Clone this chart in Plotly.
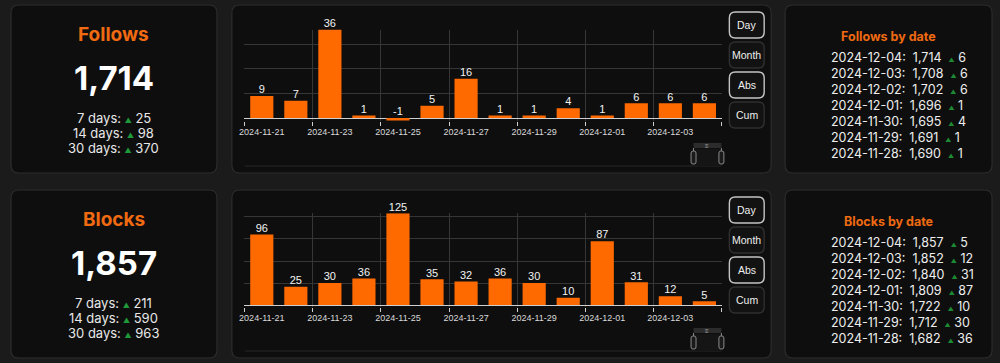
import plotly.graph_objects as go
import pandas as pd

W, H = 1000, 363

# ---------------- data ----------------
dates = ["2024-11-21", "2024-11-22", "2024-11-23", "2024-11-24", "2024-11-25",
         "2024-11-26", "2024-11-27", "2024-11-28", "2024-11-29", "2024-11-30",
         "2024-12-01", "2024-12-02", "2024-12-03", "2024-12-04"]
follows_daily = [9, 7, 36, 1, -1, 5, 16, 1, 1, 4, 1, 6, 6, 6]
blocks_daily = [96, 25, 30, 36, 125, 35, 32, 36, 30, 10, 87, 31, 12, 5]

follows_total = 1714
blocks_total = 1857
period_labels = ["7 days", "14 days", "30 days"]
follows_period_gain = [25, 98, 370]
blocks_period_gain = [211, 590, 963]

table_dates = ["2024-12-04", "2024-12-03", "2024-12-02", "2024-12-01",
               "2024-11-30", "2024-11-29", "2024-11-28"]
follows_table_totals = [1714, 1708, 1702, 1696, 1695, 1691, 1690]
follows_table_deltas = [6, 6, 6, 1, 4, 1, 1]
blocks_table_totals = [1857, 1852, 1840, 1809, 1722, 1712, 1682]
blocks_table_deltas = [5, 12, 31, 87, 10, 30, 36]

button_labels = ["Day", "Month", "Abs", "Cum"]
button_active = [True, False, True, False]

# ---------------- style ----------------
PAGE = "#1b1b1b"
CARD = "#0e0e0e"
CARD_LINE = "#2c2c2c"
ORANGE_T = "#f06a12"
BAR = "#ff6a00"
WHITE = "#eeeeee"
GREEN = "#1f9a3a"
GRID = "#363636"
FONT = "Inter"
CHART_FONT = "Liberation Sans"


def X(px):
    return px / W


def Y(py):
    return 1 - py / H


def rrect(x0, y0, x1, y1, r):
    a, b = X(x0), X(x1)
    t, u = Y(y0), Y(y1)
    rx, ry = r / W, r / H
    return (f"M{a+rx},{t} L{b-rx},{t} Q{b},{t} {b},{t-ry} L{b},{u+ry} "
            f"Q{b},{u} {b-rx},{u} L{a+rx},{u} Q{a},{u} {a},{u+ry} "
            f"L{a},{t-ry} Q{a},{t} {a+rx},{t} Z")


shapes = []
annotations = []


def card(x0, y0, x1, y1):
    shapes.append(dict(type="path", path=rrect(x0, y0, x1, y1, 8),
                       xref="paper", yref="paper", fillcolor=CARD,
                       line=dict(color=CARD_LINE, width=1.2), layer="below"))


def text(x, y, s, size, color=WHITE, bold=False, xanchor="center", family=FONT):
    annotations.append(dict(x=X(x), y=Y(y), xref="paper", yref="paper",
                            text=(f"<b>{s}</b>" if bold else s), showarrow=False,
                            xanchor=xanchor, yanchor="middle",
                            font=dict(family=family, size=size, color=color)))


tri = lambda sz, col=GREEN: f"<span style='font-size:{sz}px;color:{col}'>▲</span>"
SP = "\u00a0"

card_tops = [5, 190]
card_h = 168
names = ["Follows", "Blocks"]
totals = [follows_total, blocks_total]
gains = [follows_period_gain, blocks_period_gain]
tab_tot = [follows_table_totals, blocks_table_totals]
tab_del = [follows_table_deltas, blocks_table_deltas]

for k, top in enumerate(card_tops):
    bot = top + card_h
    card(6, top, 213, bot)
    card(228, top, 770, bot)
    card(784, top, 992, bot)
    # left summary
    cx = 109.5
    text(cx, top + 29.5, names[k], 19, ORANGE_T, bold=True)
    text(cx, top + 72.5, f"{totals[k]:,}", 33, "#ffffff", bold=True)
    for i, (lab, g) in enumerate(zip(period_labels, gains[k])):
        text(cx, top + 113 + 15 * i, f"{lab}: {tri(7)} {g}", 13, "#e8e8e8")
    # right table
    text(888, top + 31.5, f"{names[k]} by date", 12.5, ORANGE_T, bold=True)
    for i, (d, t, dd) in enumerate(zip(table_dates, tab_tot[k], tab_del[k])):
        text(828, top + 52.5 + 16 * i,
             f"{d}:{SP}{SP}{t:,}{SP}{SP}{tri(6, '#1d8a33')}{SP}{dd}", 12.5, "#eeeeee",
             xanchor="left")
    # buttons
    for i, (lab, act) in enumerate(zip(button_labels, button_active)):
        by0 = top + 7 + 30 * i
        shapes.append(dict(type="path", path=rrect(728, by0, 763, by0 + 26, 6),
                           xref="paper", yref="paper", fillcolor="#121212",
                           line=dict(color="#c4c4c4" if act else "#2f2f2f",
                                     width=1.4), layer="above"))
        text(745.5, by0 + 13, lab, 10.5, "#eeeeee", family=CHART_FONT)
    # data zoom slider
    sy = top + 138
    shapes.append(dict(type="rect", x0=X(241), x1=X(720), y0=Y(sy + 22), y1=Y(sy + 24),
                       xref="paper", yref="paper", fillcolor="#1a1a1a",
                       line=dict(width=0), layer="below"))
    shapes.append(dict(type="rect", x0=X(692), x1=X(720), y0=Y(sy + 5), y1=Y(sy),
                       xref="paper", yref="paper", fillcolor="#2c2c2c",
                       line=dict(width=0), layer="below"))
    shapes.append(dict(type="rect", x0=X(692), x1=X(720), y0=Y(sy + 23), y1=Y(sy + 6),
                       xref="paper", yref="paper", fillcolor="#151515",
                       line=dict(width=0), layer="below"))
    for hx in (692, 720):
        shapes.append(dict(type="path", path=rrect(hx - 2.5, sy + 8, hx + 2.5, sy + 21, 2),
                           xref="paper", yref="paper", fillcolor="#1a1a1a",
                           line=dict(color="#8a8a8a", width=1), layer="above"))
        shapes.append(dict(type="line", x0=X(hx), x1=X(hx), y0=Y(sy + 5), y1=Y(sy + 8),
                           xref="paper", yref="paper",
                           line=dict(color="#8a8a8a", width=1), layer="above"))
    text(706, sy + 2.5, "≡", 6, "#aaaaaa", family=CHART_FONT)

# ---------------- charts ----------------
fig = go.Figure()
bar_w = 0.68 * 86400000
bts = pd.to_datetime(dates) - pd.Timedelta(hours=12)
boundaries = list(bts.strftime("%Y-%m-%d %H:%M")[::2])
boundaries.append((pd.to_datetime(dates[-1]) + pd.Timedelta(hours=12)).strftime("%Y-%m-%d %H:%M"))
xrange = [(pd.to_datetime(boundaries[0]) - pd.Timedelta(minutes=20)).strftime("%Y-%m-%d %H:%M"),
          (pd.to_datetime(boundaries[-1]) + pd.Timedelta(minutes=20)).strftime("%Y-%m-%d %H:%M")]

series = [follows_daily, blocks_daily]
axes = [("x", "y"), ("x2", "y2")]
for (xa, ya), vals in zip(axes, series):
    fig.add_trace(go.Bar(x=dates, y=vals, width=bar_w, marker=dict(color=BAR, line=dict(width=0)),
                         xaxis=xa, yaxis=ya, hoverinfo="x+y", showlegend=False))
    fig.add_trace(go.Scatter(x=dates, y=[max(v, 0) for v in vals], text=[str(v) for v in vals],
                             mode="text", textposition="top center", cliponaxis=False,
                             textfont=dict(family=CHART_FONT, size=11, color="#f2f2f2"),
                             xaxis=xa, yaxis=ya, hoverinfo="skip", showlegend=False))

xcommon = dict(type="date", range=xrange, tickvals=dates[::2], tickformat="%Y-%m-%d",
               ticks="", showgrid=False, zeroline=False, showline=False,
               ticklabelstandoff=4,
               tickfont=dict(family=CHART_FONT, size=9, color="#dadada"),
               minor=dict(tickmode="array", tickvals=boundaries, ticks="outside", ticklen=4,
                          tickcolor="#cfcfcf", tickwidth=1, showgrid=True,
                          gridcolor=GRID, gridwidth=1),
               fixedrange=True)
fig.update_layout(
    xaxis=dict(domain=[X(240.5), X(720.5)], anchor="y", **xcommon),
    xaxis2=dict(domain=[X(240.5), X(720.5)], anchor="y2", **xcommon),
    yaxis=dict(domain=[Y(121), Y(29.5)], anchor="x", range=[-1.2, 36],
               tickvals=[10, 20, 30, 36], showticklabels=False, gridcolor=GRID,
               zeroline=True, zerolinecolor="#cfcfcf", zerolinewidth=1, fixedrange=True),
    yaxis2=dict(domain=[Y(306.5), Y(213.3)], anchor="x2", range=[-2, 125],
                tickvals=[30, 60, 90, 120, 125], showticklabels=False, gridcolor=GRID,
                zeroline=True, zerolinecolor="#cfcfcf", zerolinewidth=1, fixedrange=True),
)

fig.update_layout(
    width=W, height=H, autosize=False,
    margin=dict(l=0, r=0, t=0, b=0, pad=0),
    paper_bgcolor=PAGE, plot_bgcolor="rgba(0,0,0,0)",
    bargap=0.3, showlegend=False,
    shapes=shapes, annotations=annotations,
    font=dict(family=FONT, color=WHITE),
)

fig.write_html("out.html", config={"displayModeBar": False},
               post_script="document.body.style.margin='0';document.body.style.background='#1b1b1b';")
